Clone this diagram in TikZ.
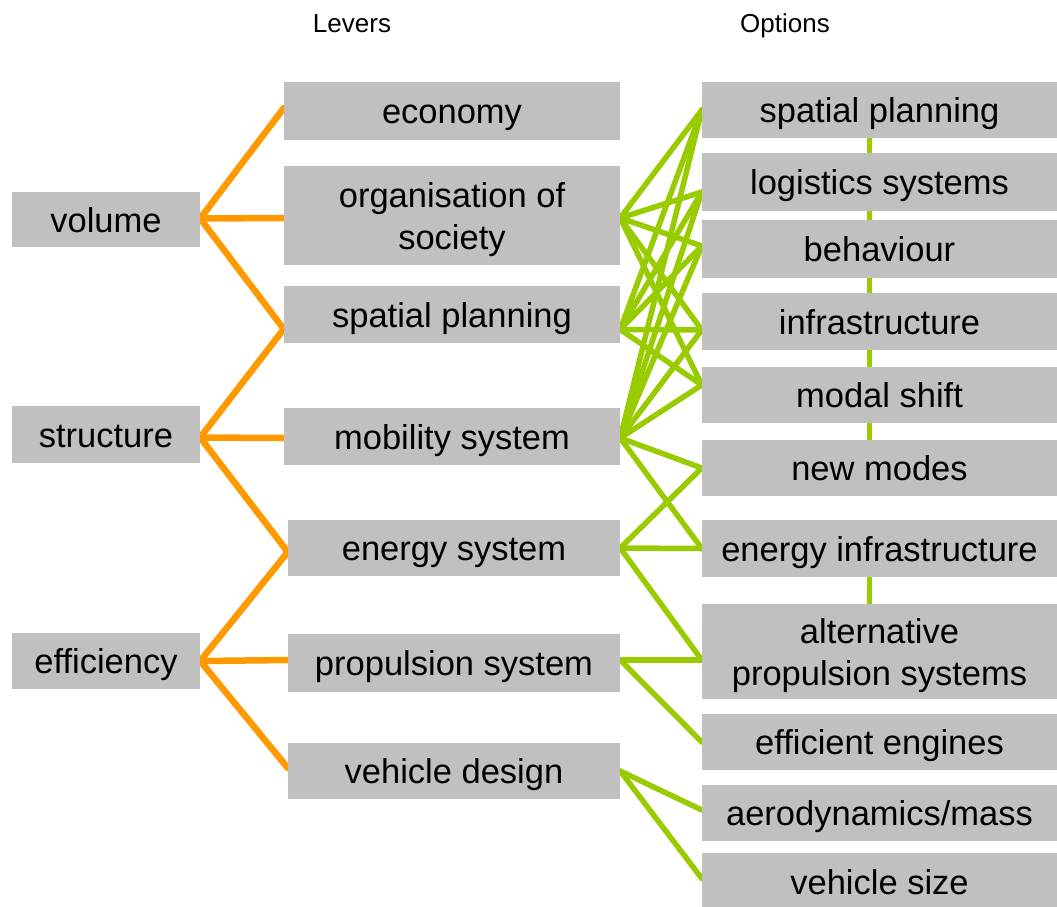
\documentclass[tikz,border=0pt]{standalone}
\usepackage{fontspec}
\setmainfont{Liberation Sans}
\usetikzlibrary{backgrounds}
\definecolor{boxgray}{HTML}{C0C0C0}
\definecolor{leverorange}{HTML}{FF9900}
\definecolor{optiongreen}{HTML}{99CC00}

\begin{document}
\begin{tikzpicture}[x=1pt,y=-1pt,
  box/.style={fill=boxgray, inner sep=0pt, align=center,
    font=\fontsize{34.5}{42}\selectfont, text height=25pt, text depth=0pt},
  twoline/.style={text height=67pt, text depth=0pt},
  head/.style={inner sep=0pt, font=\fontsize{26}{31}\selectfont,
    text height=18.6pt, text depth=0pt},
  lever/.style={draw=leverorange, line width=6.5pt, line cap=round},
  option/.style={draw=optiongreen, line width=5.5pt, line cap=round},
  chain/.style={draw=optiongreen, line width=5pt},
]
\useasboundingbox (0,0) rectangle (1057,906);

% column headings
\node[head] (hlev) at (352,23) {Levers};
\node[head] (hopt) at (785,23) {Options};

% target areas
\node[box, minimum width=188pt, minimum height=55pt] (vol) at (106,219.5) {volume};
\node[box, minimum width=188pt, minimum height=57pt] (str) at (106,434.5) {structure};
\node[box, minimum width=188pt, minimum height=56pt] (eff) at (106,661) {efficiency};

% levers
\node[box, minimum width=336pt, minimum height=58pt] (eco) at (452,111) {economy};
\node[box, twoline, minimum width=336pt, minimum height=99pt] (org) at (452,215.5) {organisation of\\society};
\node[box, minimum width=336pt, minimum height=57pt] (msp) at (452,314.5) {spatial planning};
\node[box, minimum width=336pt, minimum height=57pt] (mob) at (452,436.5) {mobility system};
\node[box, minimum width=332pt, minimum height=56pt] (ene) at (454,548) {energy system};
\node[box, minimum width=332pt, minimum height=58pt] (pro) at (454,663) {propulsion system};
\node[box, minimum width=332pt, minimum height=56pt] (veh) at (454,771) {vehicle design};

% options
\node[box, minimum width=355pt, minimum height=56pt] (rsp) at (879.5,110) {spatial planning};
\node[box, minimum width=355pt, minimum height=58pt] (rls) at (879.5,182) {logistics systems};
\node[box, minimum width=355pt, minimum height=58pt] (rbe) at (879.5,249) {behaviour};
\node[box, minimum width=355pt, minimum height=57pt] (rin) at (879.5,321.5) {infrastructure};
\node[box, minimum width=355pt, minimum height=56pt] (rms) at (879.5,395) {modal shift};
\node[box, minimum width=355pt, minimum height=56pt] (rnm) at (879.5,468) {new modes};
\node[box, minimum width=355pt, minimum height=57pt] (rei) at (879.5,548.5) {energy infrastructure};
\node[box, twoline, minimum width=355pt, minimum height=95pt] (raps) at (879.5,651.5) {alternative\\propulsion systems};
\node[box, minimum width=355pt, minimum height=56pt] (ree) at (879.5,742) {efficient engines};
\node[box, minimum width=355pt, minimum height=56pt] (ram) at (879.5,813) {aerodynamics/mass};
\node[box, minimum width=355pt, minimum height=57pt] (rvs) at (879.5,881.5) {vehicle size};

% connector ends on the box sides
\coordinate (volR) at ([yshift=1pt]vol.east);
\coordinate (ecoL) at ([yshift=3pt]eco.west);
\coordinate (orgL) at ([yshift=-2.5pt]org.west);
\coordinate (mspL) at ([yshift=-14.5pt]msp.west);
\coordinate (mobL) at ([yshift=-1.5pt]mob.west);
\coordinate (eneL) at ([yshift=-4pt]ene.west);
\coordinate (proL) at ([yshift=3pt]pro.west);
\coordinate (vehL) at ([yshift=3pt]veh.west);
\coordinate (strR) at ([yshift=-3pt]str.east);

\coordinate (orgR) at ([yshift=-2.5pt]org.east);
\coordinate (mspR) at ([yshift=-15pt]msp.east);
\coordinate (mobR) at ([yshift=-1.5pt]mob.east);
\coordinate (eneR) at (ene.east);
\coordinate (proR) at ([yshift=3pt]pro.east);
\coordinate (vehR) at (veh.east);

\coordinate (rspL) at (rsp.west);
\coordinate (rlsL) at ([yshift=-10pt]rls.west);
\coordinate (rbeL) at ([yshift=3pt]rbe.west);
\coordinate (rinL) at ([yshift=-8.5pt]rin.west);
\coordinate (rmsL) at ([yshift=10pt]rms.west);
\coordinate (rnmL) at (rnm.west);
\coordinate (reiL) at (rei.west);
\coordinate (rapsL) at ([yshift=-8.5pt]raps.west);
\coordinate (reeL) at (ree.west);
\coordinate (ramL) at ([yshift=3pt]ram.west);
\coordinate (rvsL) at ([yshift=3pt]rvs.west);

\begin{scope}[on background layer]
  % target areas to levers
  \foreach \t in {ecoL, orgL, mspL} \draw[lever] (volR) -- (\t);
  \foreach \t in {mspL, mobL, eneL} \draw[lever] (strR) -- (\t);
  \foreach \t in {eneL, proL, vehL} \draw[lever] (eff.east) -- (\t);

  % levers to options
  \foreach \t in {rspL, rlsL, rbeL, rinL, rmsL} \draw[option] (orgR) -- (\t);
  \foreach \t in {rspL, rlsL, rbeL, rinL, rmsL} \draw[option] (mspR) -- (\t);
  \foreach \t in {rspL, rlsL, rbeL, rinL, rmsL, rnmL, reiL} \draw[option] (mobR) -- (\t);
  \foreach \t in {rnmL, reiL, rapsL} \draw[option] (eneR) -- (\t);
  \foreach \t in {rapsL, reeL} \draw[option] (proR) -- (\t);
  \foreach \t in {ramL, rvsL} \draw[option] (vehR) -- (\t);

  % links running behind the option column
  \draw[chain] ([xshift=-10.5pt]rsp.south) -- ([xshift=-10.5pt]rnm.north);
  \draw[chain] ([xshift=-10.5pt]rei.south) -- ([xshift=-10.5pt]raps.north);
\end{scope}
\end{tikzpicture}
\end{document}
